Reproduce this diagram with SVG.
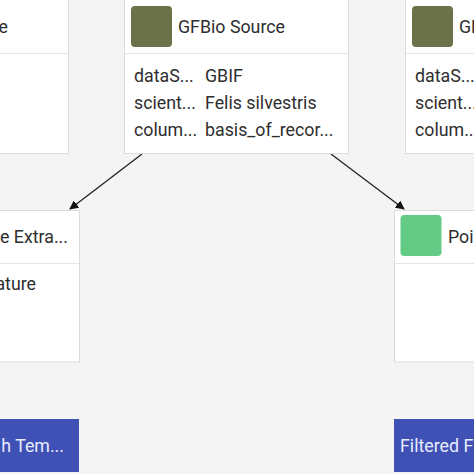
<svg xmlns="http://www.w3.org/2000/svg" width="474" height="474" viewBox="0 0 474 474">
<defs>
<style>
.node{fill:#ffffff;stroke:#dcdcdc;stroke-width:1}
.div{stroke:#e6e6e6;stroke-width:1}
.t{font-family:Roboto,"Liberation Sans",sans-serif;font-size:17.8px;fill:#2e2e2e}
.w{font-family:Roboto,"Liberation Sans",sans-serif;font-size:17.8px;fill:#e8ecff}
.out{fill:#3f51b5}
.edge{stroke:#222222;stroke-width:1.3;fill:none;marker-end:url(#arr)}
</style>
<marker id="arr" viewBox="0 0 10 10" refX="9" refY="5" markerWidth="9" markerHeight="9" orient="auto" markerUnits="userSpaceOnUse">
<path d="M0,0 L10,5 L0,10 z" fill="#111111"/>
</marker>
</defs>
<rect width="474" height="474" fill="#f4f4f4"/>
<g id="connectors">
<line class="edge" x1="142" y1="154" x2="70" y2="209"/>
<line class="edge" x1="331" y1="154" x2="404" y2="209"/>
</g>
<g id="node-left-top">
<rect class="node" x="-5" y="-5" width="73.5" height="158.5"/>
<line class="div" x1="0" y1="53.5" x2="68" y2="53.5"/>
<text class="t" x="8" y="33" text-anchor="end">e</text>
</g>
<g id="node-gfbio-center">
<rect class="node" x="124.5" y="-1" width="224" height="154.5"/>
<line class="div" x1="125" y1="53.5" x2="348" y2="53.5"/>
<rect x="131" y="6" width="41" height="41" rx="4" fill="#6b724a"/>
<text class="t" x="178" y="33">GFBio Source</text>
<text class="t" x="134" y="82">dataS...</text>
<text class="t" x="205" y="82">GBIF</text>
<text class="t" x="134" y="109">scient...</text>
<text class="t" x="205" y="109">Felis silvestris</text>
<text class="t" x="134" y="136">colum...</text>
<text class="t" x="205" y="136">basis_of_recor...</text>
</g>
<g id="node-gfbio-right">
<rect class="node" x="405.5" y="-1" width="80" height="154.5"/>
<line class="div" x1="406" y1="53.5" x2="474" y2="53.5"/>
<rect x="412" y="6" width="41" height="41" rx="4" fill="#6b724a"/>
<text class="t" x="459" y="33">GFBio Source</text>
<text class="t" x="415" y="82">dataS...</text>
<text class="t" x="415" y="109">scient...</text>
<text class="t" x="415" y="136">colum...</text>
</g>
<g id="node-left-mid">
<rect class="node" x="-5" y="210.5" width="84.5" height="151.5"/>
<line class="div" x1="0" y1="263.5" x2="79" y2="263.5"/>
<text class="t" x="68" y="243" text-anchor="end">e Extra...</text>
<text class="t" x="36" y="290" text-anchor="end">ature</text>
</g>
<g id="node-right-mid">
<rect class="node" x="394.5" y="210.5" width="90" height="151.5"/>
<line class="div" x1="395" y1="263.5" x2="474" y2="263.5"/>
<rect x="400.5" y="215" width="41" height="41" rx="4" fill="#64cb86"/>
<text class="t" x="448" y="243">Poi</text>
</g>
<g id="node-left-bottom">
<rect class="out" x="-5" y="419" width="84" height="53"/>
<text class="w" x="64" y="452" text-anchor="end">h Tem...</text>
</g>
<g id="node-right-bottom">
<rect class="out" x="394" y="419" width="90" height="53"/>
<text class="w" x="400" y="452">Filtered F</text>
</g>
</svg>
